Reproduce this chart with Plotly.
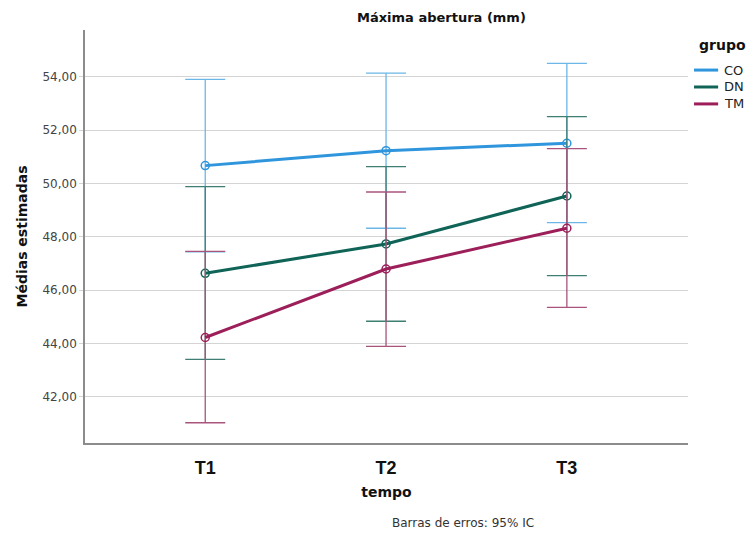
import plotly.graph_objects as go

categories = ["T1", "T2", "T3"]
groups = ["CO", "DN", "TM"]
means = {
    "CO": [50.67, 51.23, 51.51],
    "DN": [46.63, 47.73, 49.53],
    "TM": [44.22, 46.79, 48.32],
}
upper = {
    "CO": [53.91, 54.14, 54.51],
    "DN": [49.88, 50.63, 52.51],
    "TM": [47.45, 49.68, 51.31],
}
lower = {
    "CO": [47.43, 48.32, 48.53],
    "DN": [43.40, 44.83, 46.54],
    "TM": [41.02, 43.89, 45.35],
}
ytick_vals = [42, 44, 46, 48, 50, 52, 54]
ytick_text = ["42,00", "44,00", "46,00", "48,00", "50,00", "52,00", "54,00"]

line_colors = {"CO": "#2F95DC", "DN": "#0F6457", "TM": "#9C1F5A"}
err_colors = {"CO": "#6DB7E8", "DN": "#3F7E73", "TM": "#A9547D"}

fig = go.Figure()
for g in groups:
    m = means[g]
    plus = [u - v for u, v in zip(upper[g], m)]
    minus = [v - l for v, l in zip(m, lower[g])]
    fig.add_trace(go.Scatter(
        x=categories, y=m, mode="lines+markers", name=g, showlegend=False,
        line=dict(color=line_colors[g], width=3),
        marker=dict(symbol="circle-open", size=8, color=line_colors[g], line=dict(width=1.5)),
        error_y=dict(type="data", symmetric=False, array=plus, arrayminus=minus,
                     color=err_colors[g], thickness=1.3, width=20),
    ))

# Manual legend (shapes + text) placed right of the plot area
shapes = []
annotations = [
    dict(text="<b>grupo</b>", xref="paper", yref="paper", x=1.015, y=0.964,
         xanchor="left", yanchor="middle", showarrow=False,
         font=dict(size=14, color="#111")),
]
legend_rows = [0.903, 0.862, 0.821]
for g, yy in zip(groups, legend_rows):
    shapes.append(dict(type="line", xref="paper", yref="paper",
                       x0=1.010, x1=1.050, y0=yy, y1=yy,
                       line=dict(color=line_colors[g], width=3)))
    annotations.append(dict(text=g, xref="paper", yref="paper", x=1.056, y=yy,
                            xanchor="left", yanchor="middle", showarrow=False,
                            font=dict(size=13, color="#222")))

annotations += [
    dict(text="<b>Máxima abertura (mm)</b>", xref="paper", yref="paper",
         x=0.592, y=1.0, yshift=13, xanchor="center", yanchor="middle",
         showarrow=False, font=dict(size=13, color="#111")),
    dict(text="Barras de erros: 95% IC", xref="paper", yref="paper",
         x=0.627, y=0, yshift=-80, xanchor="center", yanchor="middle",
         showarrow=False, font=dict(size=12, color="#333")),
]

fig.update_layout(
    width=747, height=533,
    margin=dict(l=85, r=59, t=30, b=90, autoexpand=False),
    plot_bgcolor="white", paper_bgcolor="white",
    font=dict(family="DejaVu Sans", color="#222"),
    showlegend=False,
    hovermode=False,
    xaxis=dict(
        type="category", range=[-0.665, 2.67],
        showgrid=False, showline=True, linecolor="#8c8c8c", linewidth=1.5,
        ticks="", ticklabelstandoff=8,
        tickfont=dict(family="Liberation Sans", size=18, color="#111"),
        tickprefix="<b>", ticksuffix="</b>",
        title=dict(text="<b>tempo</b>", font=dict(size=14, color="#111"), standoff=10),
    ),
    yaxis=dict(
        range=[40.26, 55.76],
        tickvals=ytick_vals, ticktext=ytick_text,
        showgrid=True, gridcolor="#d4d4d4", gridwidth=1,
        showline=True, linecolor="#8c8c8c", linewidth=1.5,
        ticks="outside", ticklen=4, tickcolor="#d4d4d4",
        tickfont=dict(size=12, color="#444"),
        zeroline=False,
        title=dict(text="<b>Médias estimadas</b>", font=dict(size=14, color="#111"), standoff=12),
    ),
    shapes=shapes,
    annotations=annotations,
)

fig.write_html("out.html", config={"displayModeBar": False},
               post_script="document.body.style.margin='0';document.body.style.overflow='hidden';")
